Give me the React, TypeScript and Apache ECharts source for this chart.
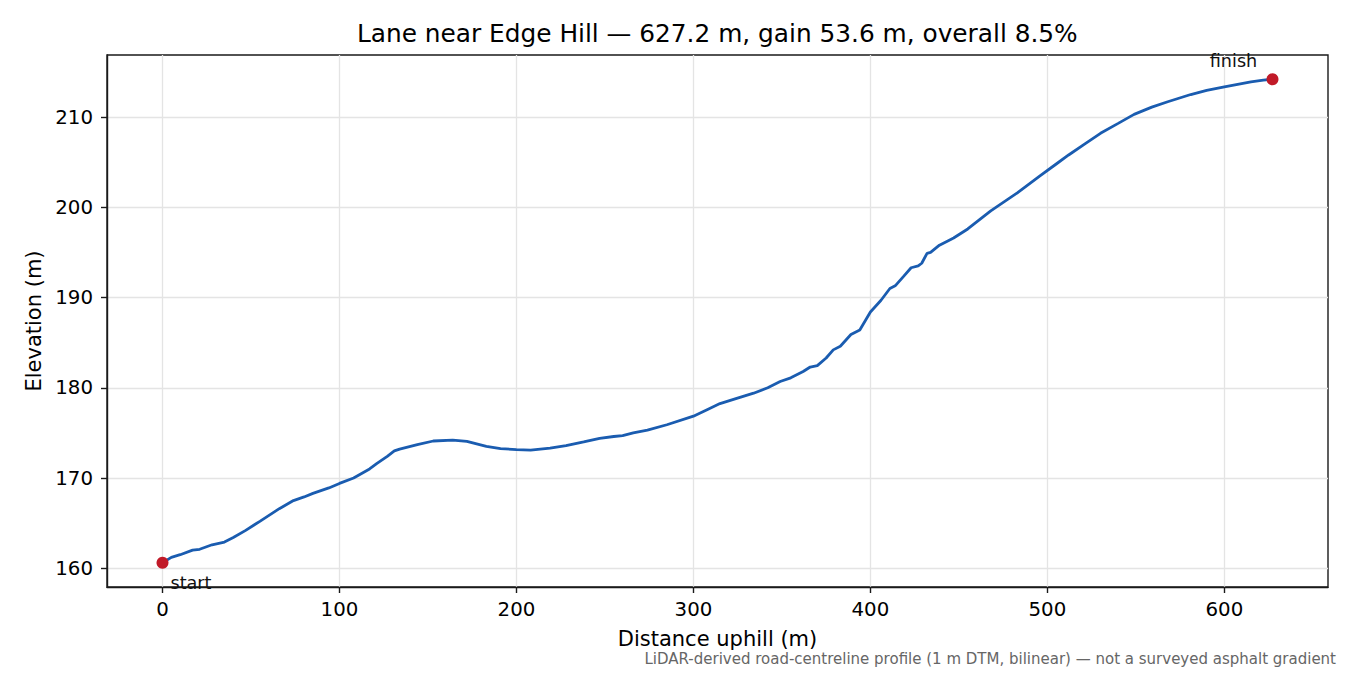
import React, { useRef, useEffect } from "react";
import * as echarts from "echarts";

// distance along the lane (m) and elevation (m)
const distance = [
  0, 5, 10, 17, 21, 28, 35, 40, 47, 55, 66, 74, 80, 85, 94, 100, 108, 117, 121,
  127, 131, 134, 144, 153, 164, 172, 183, 191, 200, 208, 219, 228, 238, 247, 255,
  260, 266, 274, 285, 300, 308, 315, 324, 334, 342, 349, 355, 362, 366, 370, 375,
  379, 383, 389, 394, 400, 406, 411, 414, 419, 423, 427, 429, 432, 434, 439, 444,
  447, 455, 468, 483, 496, 505, 512, 521, 530, 540, 549, 559, 568, 581, 590, 600,
  615, 622, 627.2,
];
const elevation = [
  160.6, 161.2, 161.5, 162.0, 162.1, 162.6, 162.9, 163.4, 164.2, 165.2, 166.6,
  167.5, 167.9, 168.3, 168.9, 169.4, 170.0, 171.0, 171.6, 172.4, 173.0, 173.2,
  173.7, 174.1, 174.2, 174.05, 173.5, 173.25, 173.15, 173.1, 173.3, 173.6, 174.0,
  174.4, 174.6, 174.7, 175.0, 175.3, 175.9, 176.85, 177.6, 178.25, 178.8, 179.4,
  180.0, 180.7, 181.1, 181.8, 182.3, 182.45, 183.3, 184.2, 184.6, 185.9, 186.4,
  188.4, 189.7, 191.0, 191.3, 192.4, 193.3, 193.5, 193.8, 194.9, 195.0, 195.8,
  196.3, 196.6, 197.6, 199.6, 201.6, 203.5, 204.8, 205.8, 207.0, 208.2, 209.3,
  210.3, 211.1, 211.7, 212.5, 212.95, 213.35, 213.9, 214.1, 214.2,
];
const endpointNames = ["start", "finish"];
const xTicks = [0, 100, 200, 300, 400, 500, 600];
const yTicks = [160, 170, 180, 190, 200, 210];

const TITLE = "Lane near Edge Hill — 627.2 m, gain 53.6 m, overall 8.5%";
const NOTE =
  "LiDAR-derived road-centreline profile (1 m DTM, bilinear) — not a surveyed asphalt gradient";

const FONT = "DejaVu Sans";
const LINE_BLUE = "#1a5cb0";
const DOT_RED = "#c11a28";
const GRID_GREY = "#e4e4e4";
const SPINE = "#1a1a1a";

const App: React.FC = () => {
  const ref = useRef<HTMLDivElement>(null);

  useEffect(() => {
    if (!ref.current) return;
    const chart = echarts.init(ref.current, null, { renderer: "svg" });

    const dMax = distance[distance.length - 1];
    const eMin = Math.min(...elevation);
    const eMax = Math.max(...elevation);
    // matplotlib-style 5% margins
    const xPad = dMax * 0.05;
    const yPad = (eMax - eMin) * 0.05;

    const lineData = distance.map((d, i) => [d, elevation[i]]);
    const last = distance.length - 1;

    const endLabel = (offset: number[], align: string) => ({
      show: true,
      formatter: "{b}",
      position: "inside",
      align,
      verticalAlign: "middle",
      offset,
      fontFamily: FONT,
      fontSize: 17.6,
      color: "#111",
    });

    chart.setOption({
      animation: false,
      textStyle: { fontFamily: FONT },
      title: [
        {
          // centred over the plot area, not the page
          text: TITLE,
          left: 357,
          top: 21,
          padding: 0,
          textStyle: { fontFamily: FONT, fontSize: 24.8, fontWeight: "normal", color: "#000" },
        },
        {
          text: NOTE,
          right: 14,
          top: 651,
          padding: 0,
          textStyle: { fontFamily: FONT, fontSize: 15, fontWeight: "normal", color: "#666" },
        },
      ],
      grid: {
        left: 107,
        right: 22,
        top: 55,
        bottom: 88,
        show: true,
        borderColor: SPINE,
        borderWidth: 1.4,
        containLabel: false,
      },
      xAxis: {
        type: "value",
        min: -xPad,
        max: dMax + xPad,
        name: "Distance uphill (m)",
        nameLocation: "middle",
        nameGap: 41,
        nameTextStyle: { fontFamily: FONT, fontSize: 21, color: "#000" },
        axisLine: { show: true, onZero: false, lineStyle: { color: SPINE, width: 1.4 } },
        axisTick: {
          show: true,
          length: 6,
          lineStyle: { color: SPINE, width: 1.4 },
          customValues: xTicks,
        },
        axisLabel: {
          fontFamily: FONT,
          fontSize: 19.8,
          color: "#000",
          margin: 12,
          customValues: xTicks,
        },
        splitLine: { show: true, lineStyle: { color: GRID_GREY, width: 1.3 } },
      },
      yAxis: {
        type: "value",
        min: eMin - yPad,
        max: eMax + yPad,
        name: "Elevation (m)",
        nameLocation: "middle",
        nameGap: 62,
        nameTextStyle: { fontFamily: FONT, fontSize: 21, color: "#000" },
        axisLine: { show: true, onZero: false, lineStyle: { color: SPINE, width: 1.4 } },
        axisTick: {
          show: true,
          length: 6,
          lineStyle: { color: SPINE, width: 1.4 },
          customValues: yTicks,
        },
        axisLabel: {
          fontFamily: FONT,
          fontSize: 19.8,
          color: "#000",
          margin: 14,
          customValues: yTicks,
        },
        splitLine: { show: true, lineStyle: { color: GRID_GREY, width: 1.3 } },
      },
      series: [
        {
          type: "line",
          data: lineData,
          showSymbol: false,
          symbol: "none",
          lineStyle: { color: LINE_BLUE, width: 2.8 },
          z: 2,
        },
        {
          type: "scatter",
          symbolSize: 12,
          itemStyle: { color: DOT_RED, opacity: 1 },
          z: 3,
          data: [
            {
              name: endpointNames[0],
              value: [distance[0], elevation[0]],
              label: endLabel([8, 20], "left"),
            },
            {
              name: endpointNames[1],
              value: [distance[last], elevation[last]],
              label: endLabel([-39, -18], "center"),
            },
          ],
        },
      ],
    });

    return () => {
      chart.dispose();
    };
  }, []);

  return (
    <div
      ref={ref}
      style={{ width: 1350, height: 675, position: "absolute", left: 0, top: 0 }}
    />
  );
};

export default App;
